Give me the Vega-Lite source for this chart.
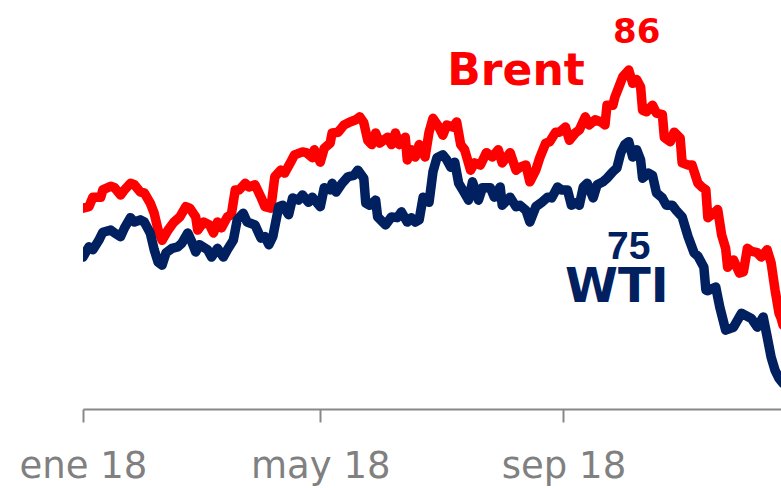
{
  "$schema": "https://vega.github.io/schema/vega-lite/v6.json",
  "autosize": {"type": "none"},
  "width": 698,
  "height": 409,
  "padding": {"left": 83, "top": 0, "right": 0, "bottom": 79},
  "background": "white",
  "config": {"view": {"stroke": null}},
  "datasets": {
    "brent": [
      {"d":"2018-01-01","v":67.5},{"d":"2018-01-04","v":67.7},{"d":"2018-01-06","v":69.0},{"d":"2018-01-10","v":69.0},
      {"d":"2018-01-11","v":70.0},{"d":"2018-01-15","v":70.5},{"d":"2018-01-17","v":70.3},{"d":"2018-01-20","v":69.3},
      {"d":"2018-01-22","v":70.0},{"d":"2018-01-25","v":70.9},{"d":"2018-01-27","v":70.7},{"d":"2018-01-30","v":69.7},
      {"d":"2018-02-01","v":69.6},{"d":"2018-02-04","v":68.2},{"d":"2018-02-06","v":66.8},{"d":"2018-02-08","v":64.5},
      {"d":"2018-02-10","v":63.1},{"d":"2018-02-13","v":64.5},{"d":"2018-02-16","v":65.6},{"d":"2018-02-19","v":66.3},
      {"d":"2018-02-22","v":67.7},{"d":"2018-02-24","v":67.5},{"d":"2018-02-27","v":66.3},{"d":"2018-02-28","v":64.5},
      {"d":"2018-03-03","v":65.6},{"d":"2018-03-06","v":65.2},{"d":"2018-03-08","v":64.1},{"d":"2018-03-10","v":65.6},
      {"d":"2018-03-12","v":64.8},{"d":"2018-03-15","v":66.3},{"d":"2018-03-17","v":66.6},{"d":"2018-03-19","v":70.0},
      {"d":"2018-03-21","v":70.0},{"d":"2018-03-24","v":70.9},{"d":"2018-03-26","v":70.4},{"d":"2018-03-29","v":70.7},
      {"d":"2018-04-01","v":69.0},{"d":"2018-04-03","v":67.7},{"d":"2018-04-06","v":67.5},{"d":"2018-04-08","v":71.8},
      {"d":"2018-04-11","v":72.7},{"d":"2018-04-13","v":72.3},{"d":"2018-04-16","v":73.8},{"d":"2018-04-18","v":74.8},
      {"d":"2018-04-22","v":75.2},{"d":"2018-04-24","v":75.1},{"d":"2018-04-27","v":74.4},{"d":"2018-04-28","v":75.5},
      {"d":"2018-05-01","v":73.8},{"d":"2018-05-03","v":75.7},{"d":"2018-05-06","v":76.4},{"d":"2018-05-07","v":77.8},
      {"d":"2018-05-10","v":77.9},{"d":"2018-05-13","v":78.9},{"d":"2018-05-16","v":79.3},{"d":"2018-05-19","v":79.6},
      {"d":"2018-05-21","v":80.0},{"d":"2018-05-23","v":79.2},{"d":"2018-05-25","v":76.8},{"d":"2018-05-27","v":76.2},
      {"d":"2018-05-29","v":77.8},{"d":"2018-05-31","v":76.4},{"d":"2018-06-04","v":77.2},{"d":"2018-06-06","v":76.2},
      {"d":"2018-06-08","v":77.8},{"d":"2018-06-10","v":76.2},{"d":"2018-06-13","v":77.2},{"d":"2018-06-14","v":74.1},
      {"d":"2018-06-16","v":75.5},{"d":"2018-06-18","v":74.5},{"d":"2018-06-20","v":76.2},{"d":"2018-06-23","v":74.5},
      {"d":"2018-06-25","v":77.9},{"d":"2018-06-27","v":79.8},{"d":"2018-06-30","v":78.6},{"d":"2018-07-02","v":77.5},
      {"d":"2018-07-04","v":78.9},{"d":"2018-07-07","v":78.6},{"d":"2018-07-09","v":79.3},{"d":"2018-07-11","v":76.2},
      {"d":"2018-07-13","v":75.5},{"d":"2018-07-16","v":72.7},{"d":"2018-07-18","v":73.7},{"d":"2018-07-21","v":73.4},
      {"d":"2018-07-24","v":75.1},{"d":"2018-07-27","v":74.5},{"d":"2018-07-30","v":75.5},{"d":"2018-08-01","v":73.7},
      {"d":"2018-08-05","v":75.1},{"d":"2018-08-08","v":72.7},{"d":"2018-08-10","v":73.1},{"d":"2018-08-13","v":73.4},
      {"d":"2018-08-15","v":71.1},{"d":"2018-08-18","v":72.7},{"d":"2018-08-20","v":74.4},{"d":"2018-08-23","v":76.4},
      {"d":"2018-08-25","v":76.6},{"d":"2018-08-28","v":77.9},{"d":"2018-08-30","v":77.9},{"d":"2018-09-02","v":78.6},
      {"d":"2018-09-04","v":76.8},{"d":"2018-09-07","v":77.8},{"d":"2018-09-09","v":78.2},{"d":"2018-09-12","v":80.0},
      {"d":"2018-09-14","v":78.9},{"d":"2018-09-17","v":79.6},{"d":"2018-09-20","v":79.3},{"d":"2018-09-22","v":78.9},
      {"d":"2018-09-23","v":81.6},{"d":"2018-09-26","v":81.6},{"d":"2018-09-27","v":82.7},{"d":"2018-09-29","v":84.1},
      {"d":"2018-10-01","v":85.5},{"d":"2018-10-04","v":86.4},{"d":"2018-10-06","v":84.6},{"d":"2018-10-08","v":85.1},
      {"d":"2018-10-10","v":84.1},{"d":"2018-10-11","v":80.9},{"d":"2018-10-13","v":80.7},{"d":"2018-10-16","v":81.6},
      {"d":"2018-10-18","v":80.5},{"d":"2018-10-21","v":80.3},{"d":"2018-10-22","v":77.2},{"d":"2018-10-25","v":76.6},
      {"d":"2018-10-27","v":77.9},{"d":"2018-10-30","v":77.1},{"d":"2018-10-31","v":73.7},{"d":"2018-11-03","v":73.4},
      {"d":"2018-11-05","v":73.4},{"d":"2018-11-08","v":70.9},{"d":"2018-11-10","v":70.4},{"d":"2018-11-12","v":70.0},
      {"d":"2018-11-13","v":66.2},{"d":"2018-11-16","v":66.8},{"d":"2018-11-18","v":67.3},{"d":"2018-11-20","v":63.8},
      {"d":"2018-11-22","v":62.0},{"d":"2018-11-23","v":59.4},{"d":"2018-11-26","v":60.4},{"d":"2018-11-29","v":58.6},
      {"d":"2018-12-01","v":58.8},{"d":"2018-12-03","v":62.0},{"d":"2018-12-05","v":61.6},{"d":"2018-12-08","v":61.4},
      {"d":"2018-12-10","v":60.8},{"d":"2018-12-13","v":61.8},{"d":"2018-12-15","v":60.0},{"d":"2018-12-17","v":56.3},
      {"d":"2018-12-19","v":53.1},{"d":"2018-12-20","v":52.5},{"d":"2018-12-21","v":51.5}
    ],
    "wti": [
      {"d":"2018-01-01","v":60.8},{"d":"2018-01-04","v":62.2},{"d":"2018-01-06","v":61.8},{"d":"2018-01-09","v":63.1},
      {"d":"2018-01-11","v":64.2},{"d":"2018-01-15","v":64.5},{"d":"2018-01-17","v":64.1},{"d":"2018-01-20","v":63.6},
      {"d":"2018-01-22","v":64.8},{"d":"2018-01-25","v":66.2},{"d":"2018-01-27","v":65.6},{"d":"2018-01-30","v":65.9},
      {"d":"2018-02-01","v":65.6},{"d":"2018-02-04","v":64.1},{"d":"2018-02-06","v":61.8},{"d":"2018-02-08","v":60.1},
      {"d":"2018-02-10","v":59.7},{"d":"2018-02-12","v":61.4},{"d":"2018-02-15","v":62.0},{"d":"2018-02-18","v":62.2},
      {"d":"2018-02-20","v":62.7},{"d":"2018-02-23","v":64.1},{"d":"2018-02-25","v":62.9},{"d":"2018-02-27","v":61.5},
      {"d":"2018-03-01","v":62.5},{"d":"2018-03-05","v":61.8},{"d":"2018-03-07","v":60.8},{"d":"2018-03-10","v":62.0},
      {"d":"2018-03-13","v":60.8},{"d":"2018-03-15","v":61.8},{"d":"2018-03-18","v":63.1},{"d":"2018-03-20","v":65.9},
      {"d":"2018-03-23","v":66.8},{"d":"2018-03-25","v":65.6},{"d":"2018-03-29","v":65.2},{"d":"2018-04-01","v":63.4},
      {"d":"2018-04-03","v":63.6},{"d":"2018-04-05","v":62.5},{"d":"2018-04-07","v":63.6},{"d":"2018-04-10","v":67.7},
      {"d":"2018-04-12","v":67.9},{"d":"2018-04-15","v":66.6},{"d":"2018-04-17","v":68.9},{"d":"2018-04-20","v":68.6},
      {"d":"2018-04-22","v":69.3},{"d":"2018-04-25","v":68.3},{"d":"2018-04-27","v":69.0},{"d":"2018-05-01","v":67.7},
      {"d":"2018-05-03","v":70.3},{"d":"2018-05-06","v":70.0},{"d":"2018-05-07","v":70.9},{"d":"2018-05-09","v":69.7},
      {"d":"2018-05-12","v":70.9},{"d":"2018-05-15","v":71.8},{"d":"2018-05-18","v":72.0},{"d":"2018-05-20","v":72.7},
      {"d":"2018-05-23","v":71.6},{"d":"2018-05-24","v":68.2},{"d":"2018-05-26","v":67.9},{"d":"2018-05-29","v":68.6},
      {"d":"2018-05-30","v":66.3},{"d":"2018-06-03","v":65.2},{"d":"2018-06-06","v":66.3},{"d":"2018-06-09","v":66.2},
      {"d":"2018-06-11","v":67.0},{"d":"2018-06-14","v":65.6},{"d":"2018-06-16","v":66.2},{"d":"2018-06-18","v":65.6},
      {"d":"2018-06-20","v":65.9},{"d":"2018-06-22","v":69.0},{"d":"2018-06-25","v":68.3},{"d":"2018-06-27","v":72.5},
      {"d":"2018-06-29","v":74.4},{"d":"2018-07-02","v":74.8},{"d":"2018-07-04","v":74.1},{"d":"2018-07-06","v":73.1},
      {"d":"2018-07-08","v":73.8},{"d":"2018-07-10","v":70.9},{"d":"2018-07-12","v":70.0},{"d":"2018-07-15","v":68.6},
      {"d":"2018-07-17","v":71.1},{"d":"2018-07-20","v":68.6},{"d":"2018-07-22","v":70.3},{"d":"2018-07-26","v":70.3},
      {"d":"2018-07-28","v":69.0},{"d":"2018-07-31","v":70.4},{"d":"2018-08-01","v":67.9},{"d":"2018-08-05","v":69.0},
      {"d":"2018-08-08","v":67.7},{"d":"2018-08-10","v":67.9},{"d":"2018-08-13","v":67.2},{"d":"2018-08-15","v":65.6},
      {"d":"2018-08-18","v":67.7},{"d":"2018-08-21","v":68.3},{"d":"2018-08-24","v":69.0},{"d":"2018-08-26","v":68.9},
      {"d":"2018-08-29","v":70.4},{"d":"2018-08-31","v":70.0},{"d":"2018-09-03","v":70.0},{"d":"2018-09-05","v":67.9},
      {"d":"2018-09-08","v":68.3},{"d":"2018-09-09","v":67.9},{"d":"2018-09-11","v":70.4},{"d":"2018-09-13","v":70.9},
      {"d":"2018-09-16","v":68.9},{"d":"2018-09-18","v":70.7},{"d":"2018-09-21","v":71.1},{"d":"2018-09-23","v":71.6},
      {"d":"2018-09-26","v":72.5},{"d":"2018-09-28","v":73.0},{"d":"2018-09-30","v":75.1},{"d":"2018-10-02","v":76.2},
      {"d":"2018-10-04","v":76.6},{"d":"2018-10-06","v":74.5},{"d":"2018-10-08","v":75.5},{"d":"2018-10-10","v":74.1},
      {"d":"2018-10-11","v":71.6},{"d":"2018-10-14","v":72.3},{"d":"2018-10-16","v":72.0},{"d":"2018-10-18","v":69.6},
      {"d":"2018-10-21","v":68.9},{"d":"2018-10-23","v":67.9},{"d":"2018-10-26","v":67.9},{"d":"2018-10-28","v":67.2},
      {"d":"2018-10-31","v":66.3},{"d":"2018-11-03","v":63.6},{"d":"2018-11-06","v":61.4},{"d":"2018-11-08","v":60.9},
      {"d":"2018-11-11","v":59.4},{"d":"2018-11-12","v":56.3},{"d":"2018-11-13","v":56.2},{"d":"2018-11-17","v":56.7},
      {"d":"2018-11-19","v":54.0},{"d":"2018-11-22","v":50.8},{"d":"2018-11-26","v":51.2},{"d":"2018-11-30","v":53.1},
      {"d":"2018-12-05","v":52.4},{"d":"2018-12-08","v":51.2},{"d":"2018-12-11","v":52.6},{"d":"2018-12-13","v":49.9},
      {"d":"2018-12-15","v":47.1},{"d":"2018-12-17","v":45.3},{"d":"2018-12-19","v":44.2},{"d":"2018-12-21","v":43.5}
    ],
    "labels": [
      {"d":"2018-08-08","v":84.4,"t":"Brent"},
      {"d":"2018-10-08","v":90.1,"t":"86"},
      {"d":"2018-10-04","v":60.5,"t":"75"},
      {"d":"2018-09-28","v":54.6,"t":"WTI"}
    ]
  },
  "layer": [
    {
      "data": {"name": "brent"},
      "mark": {"type": "line", "color": "#FF0000", "strokeWidth": 9.5, "strokeJoin": "round", "strokeCap": "round", "clip": true},
      "encoding": {
        "x": {
          "field": "d", "type": "temporal",
          "scale": {"type": "utc", "domain": [1514764800000, 1545264000000]},
          "axis": {
            "values": [1514764800000, 1525132800000, 1535760000000],
            "labelExpr": "['ene','feb','mar','abr','may','jun','jul','ago','sep','oct','nov','dic'][utcmonth(datum.value)] + ' ' + utcFormat(datum.value, '%y')",
            "title": null, "grid": false,
            "domainColor": "#888888", "domainWidth": 2,
            "tickColor": "#888888", "tickWidth": 2, "tickSize": 13,
            "labelFont": "DejaVu Sans", "labelFontSize": 37, "labelColor": "#808080",
            "labelPadding": 26, "labelFlush": false, "labelOverlap": false, "labelBound": false,
            "labelBaseline": "top", "labelAlign": "center"
          }
        },
        "y": {"field": "v", "type": "quantitative", "scale": {"domain": [40, 96], "nice": false, "zero": false}, "axis": null}
      }
    },
    {
      "data": {"name": "wti"},
      "mark": {"type": "line", "color": "#002060", "strokeWidth": 9.5, "strokeJoin": "round", "strokeCap": "round", "clip": true},
      "encoding": {
        "x": {"field": "d", "type": "temporal"},
        "y": {"field": "v", "type": "quantitative"}
      }
    },
    {
      "data": {"name": "labels"},
      "transform": [{"filter": "datum.t == 'Brent'"}],
      "mark": {"type": "text", "font": "DejaVu Sans", "fontWeight": "bold", "fontSize": 44, "color": "#FF0000", "align": "center", "baseline": "alphabetic"},
      "encoding": {"x": {"field": "d", "type": "temporal"}, "y": {"field": "v", "type": "quantitative"}, "text": {"field": "t"}}
    },
    {
      "data": {"name": "labels"},
      "transform": [{"filter": "datum.t == '86'"}],
      "mark": {"type": "text", "font": "DejaVu Sans", "fontWeight": "bold", "fontSize": 34, "color": "#FF0000", "align": "center", "baseline": "alphabetic"},
      "encoding": {"x": {"field": "d", "type": "temporal"}, "y": {"field": "v", "type": "quantitative"}, "text": {"field": "t"}}
    },
    {
      "data": {"name": "labels"},
      "transform": [{"filter": "datum.t == '75'"}],
      "mark": {"type": "text", "font": "Liberation Sans", "fontWeight": "bold", "fontSize": 39, "color": "#002060", "align": "center", "baseline": "alphabetic"},
      "encoding": {"x": {"field": "d", "type": "temporal"}, "y": {"field": "v", "type": "quantitative"}, "text": {"field": "t"}}
    },
    {
      "data": {"name": "labels"},
      "transform": [{"filter": "datum.t == 'WTI'"}],
      "mark": {"type": "text", "font": "DejaVu Sans", "fontWeight": "bold", "fontSize": 48, "color": "#002060", "align": "center", "baseline": "alphabetic"},
      "encoding": {"x": {"field": "d", "type": "temporal"}, "y": {"field": "v", "type": "quantitative"}, "text": {"field": "t"}}
    }
  ]
}
